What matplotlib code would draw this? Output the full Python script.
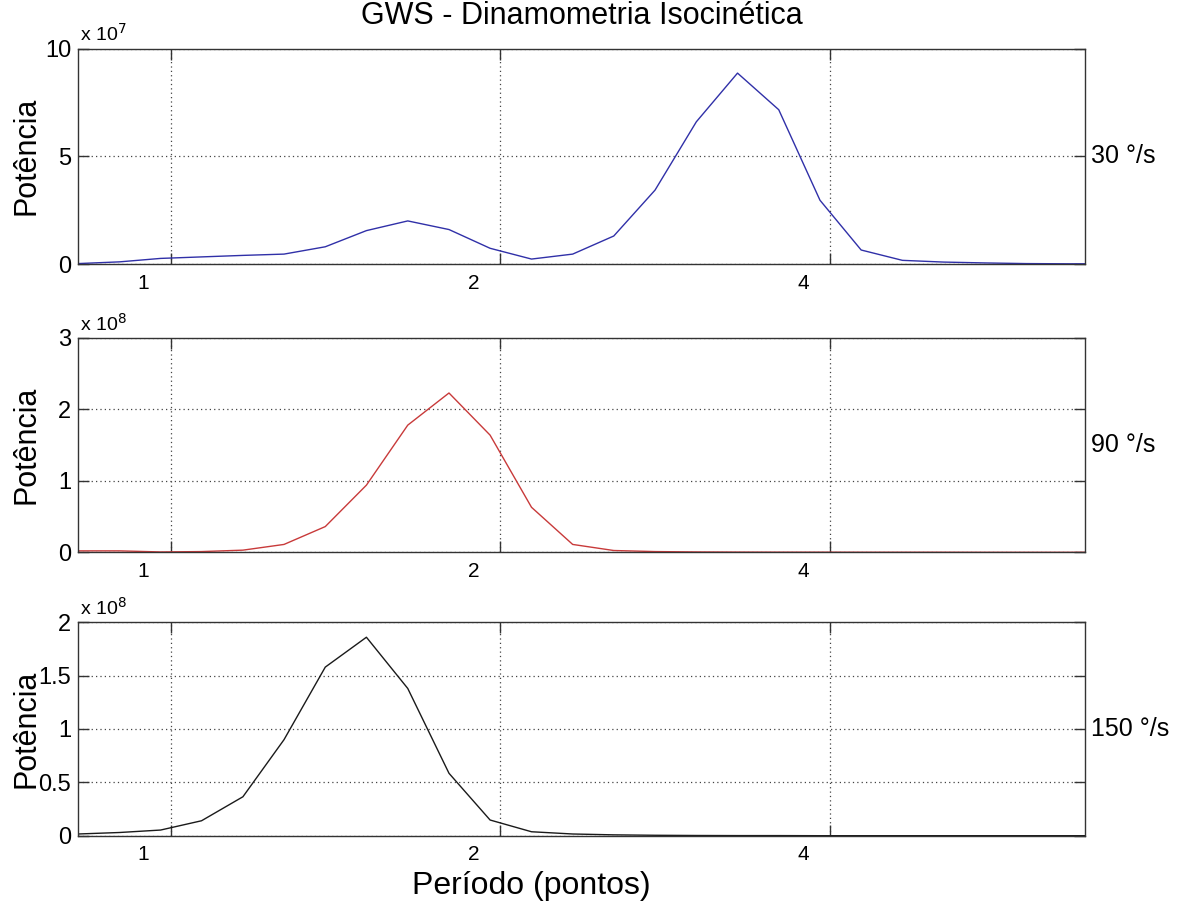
import numpy as np
import matplotlib
matplotlib.use("Agg")
import matplotlib.pyplot as plt
from matplotlib.transforms import ScaledTranslation

plt.rcParams['font.family'] = ['Liberation Sans', 'DejaVu Sans']

# periods (log2 spaced)
periodo = [0.823, 0.898, 0.979, 1.067, 1.164, 1.269, 1.384, 1.509, 1.646, 1.795,
           1.957, 2.135, 2.328, 2.538, 2.768, 3.019, 3.292, 3.590, 3.915, 4.269,
           4.656, 5.077, 5.536, 6.038, 6.584, 7.180]

# power, in units of 10^7 / 10^8
pot_30 = [0.02, 0.10, 0.26, 0.33, 0.40, 0.46, 0.80, 1.55, 2.00, 1.60,
          0.73, 0.23, 0.46, 1.30, 3.43, 6.60, 8.86, 7.16, 2.96, 0.65,
          0.17, 0.09, 0.05, 0.02, 0.01, 0.01]
pot_90 = [0.02, 0.02, 0.005, 0.01, 0.03, 0.11, 0.36, 0.94, 1.78, 2.23,
          1.64, 0.63, 0.11, 0.025, 0.01, 0.005, 0.003, 0.002, 0.002, 0.001,
          0.001, 0.001, 0.0, 0.0, 0.0, 0.0]
pot_150 = [0.016, 0.03, 0.053, 0.14, 0.365, 0.90, 1.58, 1.86, 1.38, 0.585,
           0.147, 0.037, 0.016, 0.008, 0.004, 0.002, 0.001, 0.001, 0.0, 0.0,
           0.0, 0.0, 0.0, 0.0, 0.0, 0.0]

velocidades = ['30 °/s', '90 °/s', '150 °/s']
expoentes = [7, 8, 8]
series = [pot_30, pot_90, pot_150]
cores = ['#3030a8', '#c83a3a', '#1a1a1a']
yticks = [[0, 5, 10], [0, 1, 2, 3], [0, 0.5, 1, 1.5, 2]]
yticklabels = [['0', '5', '10'], ['0', '1', '2', '3'], ['0', '0.5', '1', '1.5', '2']]

xticks = [1, 2, 4]
xticklabels = ['1', '2', '4']

fig = plt.figure(figsize=(11.89, 9.02), dpi=100)

# axes boxes in figure fractions [left, bottom, width, height]
boxes = [[0.0656, 0.7073, 0.847, 0.2389],
         [0.0656, 0.3877, 0.847, 0.2376],
         [0.0656, 0.0735, 0.847, 0.2366]]

axes = []
for i in range(3):
    ax = fig.add_axes(boxes[i])
    ax.plot(periodo, series[i], color=cores[i], linewidth=1.0)

    ax.set_xscale('log', base=2)
    ax.set_xlim(0.823, 6.835)
    ax.set_ylim(yticks[i][0], yticks[i][-1])
    ax.set_xticks(xticks)
    ax.set_xticklabels(xticklabels)
    ax.minorticks_off()
    ax.set_yticks(yticks[i])
    ax.set_yticklabels(yticklabels[i])

    ax.grid(True, linestyle=(0, (1, 2.5)), color='#444444', linewidth=0.9)
    ax.tick_params(direction='in', length=8, width=1, top=True, right=True,
                   colors='#333333', labelcolor='black')
    ax.tick_params(axis='x', labelsize=15, pad=7)
    ax.tick_params(axis='y', labelsize=17, pad=5)
    for s in ax.spines.values():
        s.set_color('#333333')
        s.set_linewidth(1.0)

    # MATLAB puts the x tick labels a bit left of the ticks
    for lab in ax.get_xticklabels():
        lab.set_transform(lab.get_transform() + ScaledTranslation(-0.27, 0, fig.dpi_scale_trans))

    ax.set_ylabel('Potência', fontsize=22)
    ax.yaxis.label.set_va('center')
    ax.yaxis.set_label_coords(-0.051, 0.5)

    ax.text(0.002, 1.015, r'x 10$^{%d}$' % expoentes[i], transform=ax.transAxes,
            ha='left', va='bottom', fontsize=14)
    ax.text(1.006, 0.5, velocidades[i], transform=ax.transAxes,
            ha='left', va='center', fontsize=18)
    axes.append(ax)

axes[0].set_title('GWS - Dinamometria Isocinética', fontsize=22, pad=18)
axes[2].set_xlabel('Período (pontos)', fontsize=23)
axes[2].xaxis.label.set_va('center')
axes[2].xaxis.set_label_coords(0.45, -0.234)

fig.savefig('out.png', dpi=100, facecolor='white')
